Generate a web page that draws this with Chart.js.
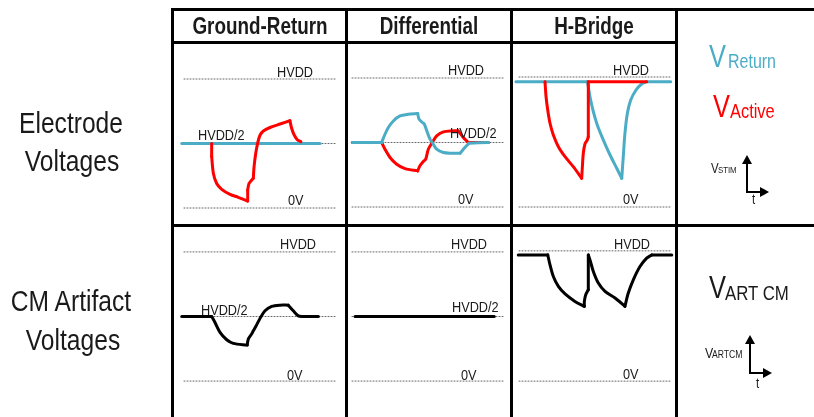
<!DOCTYPE html>
<html>
<head>
<meta charset="utf-8">
<script src="https://cdn.jsdelivr.net/npm/chart.js@4.4.1/dist/chart.umd.min.js"></script>
<style>
  html, body { margin: 0; padding: 0; background: #fff; }
  #page { position: relative; width: 814px; height: 417px; overflow: hidden; }
  canvas { position: absolute; z-index: 1; }
  svg { position: absolute; left: 0; top: 0; z-index: 2; }
  .t { position: absolute; z-index: 3; white-space: nowrap; font-family: "Liberation Sans", Arial, sans-serif; color: #1a1a1a; transform-origin: 0 0; }
</style>
</head>
<body>
<div id="page">
  <svg width="814" height="417">
    <!-- table frame -->
    <rect x="171" y="8" width="643" height="3" fill="#000"/>
    <rect x="171" y="41" width="507" height="3" fill="#000"/>
    <rect x="171" y="224" width="643" height="3" fill="#000"/>
    <rect x="171" y="8" width="3" height="409" fill="#000"/>
    <rect x="345" y="8" width="3" height="409" fill="#000"/>
    <rect x="510" y="8" width="3" height="409" fill="#000"/>
    <rect x="675" y="8" width="3" height="409" fill="#000"/>
    <!-- small V/t axis glyphs -->
    <g stroke="#000" stroke-width="2" fill="none">
      <polyline points="747,162 747,192 762,192"/>
      <polyline points="750,342 750,373 765,373"/>
    </g>
    <g fill="#000">
      <polygon points="747,155 742,164 752,164"/>
      <polygon points="769,192 760,187 760,197"/>
      <polygon points="750,335 745,344 755,344"/>
      <polygon points="772,373 763,368 763,378"/>
    </g>
  </svg>
</div>
<script>
// reference levels, as fraction of HVDD
const refLevels = [0, 0.5, 1];
const refLevelsNoMid = [0, 1];
const refSpan = [0, 100];

// Electrode voltages, Ground-Return
const grReturnT = [-1.5, 89.5];
const grReturnV = [0.5, 0.5];
const grActiveT = [18.2, 18.2, 19.3, 21.5, 24.8, 30.3, 35.7, 41.9, 41.9, 42.8, 44.6, 45.6, 46.1, 47.2, 48.5, 50.0, 52.2, 56.6, 63.2, 69.7, 70.8, 72.5, 74.7, 76.9];
const grActiveV = [0.50, 0.40, 0.27, 0.19, 0.145, 0.106, 0.083, 0.054, 0.14, 0.191, 0.217, 0.230, 0.32, 0.424, 0.505, 0.564, 0.597, 0.624, 0.651, 0.676, 0.618, 0.566, 0.527, 0.514];
const grActiveCorners = [1, 7, 8, 11, 19];

// Electrode voltages, Differential
const diffReturnT = [0.2, 19.5, 21.7, 23.9, 27.2, 31.6, 37.0, 43.2, 44.1, 46.3, 47.6, 49.2, 51.3, 52.8, 55.7, 60.1, 65.6, 71.1, 74.3, 77.0, 89.7];
const diffReturnV = [0.5, 0.5, 0.564, 0.616, 0.667, 0.706, 0.719, 0.725, 0.681, 0.655, 0.642, 0.590, 0.526, 0.5, 0.448, 0.422, 0.417, 0.417, 0.461, 0.495, 0.5];
const diffReturnCorners = [1, 7, 17, 19];
const diffActiveT = [0.2, 19.5, 21.7, 25.0, 29.4, 34.9, 43.2, 44.7, 46.9, 48.5, 50.2, 52.8, 55.7, 60.1, 65.6, 69.9, 73.2, 76.5, 89.7];
const diffActiveV = [0.5, 0.5, 0.448, 0.384, 0.332, 0.298, 0.280, 0.319, 0.353, 0.371, 0.448, 0.5, 0.551, 0.582, 0.590, 0.590, 0.539, 0.5, 0.5];
const diffActiveCorners = [1, 6, 15, 17];

// Electrode voltages, H-Bridge
const hbReturnT = [-2.0, 44.9, 45.6, 46.7, 48.9, 51.5, 55.5, 59.9, 64.3, 67.6, 68.6, 69.7, 71.3, 73.5, 77.0, 80.7, 84.0, 99.8];
const hbReturnV = [0.964, 0.964, 0.925, 0.848, 0.733, 0.631, 0.515, 0.400, 0.298, 0.221, 0.387, 0.567, 0.721, 0.823, 0.900, 0.946, 0.964, 0.964];
const hbReturnCorners = [1, 9, 16];
const hbActiveT = [17.1, 17.8, 18.9, 20.4, 22.6, 25.9, 30.3, 35.7, 41.25, 41.7, 42.3, 43.4, 44.9, 45.6, 45.6, 84.0];
const hbActiveV = [0.964, 0.848, 0.746, 0.644, 0.554, 0.464, 0.387, 0.310, 0.221, 0.310, 0.413, 0.485, 0.515, 0.541, 0.964, 0.964];
const hbActiveCorners = [8, 13, 14];

// Common-mode artifact voltages
const grArtT = [-1.5, 18.2, 20.4, 23.7, 28.1, 32.4, 41.6, 42.3, 44.5, 45.6, 47.4, 50.0, 53.3, 57.7, 63.2, 68.6, 71.9, 75.2, 78.5, 88.4];
const grArtV = [0.5, 0.5, 0.454, 0.377, 0.320, 0.292, 0.279, 0.325, 0.364, 0.389, 0.427, 0.485, 0.544, 0.578, 0.588, 0.588, 0.544, 0.505, 0.5, 0.5];
const grArtCorners = [1, 6, 15, 18];
const diffArtT = [2.0, 93.6];
const diffArtV = [0.5, 0.5];
const hbArtT = [-0.5, 18.9, 20.4, 22.6, 25.9, 30.3, 36.8, 43.0, 43.0, 43.9, 45.6, 45.6, 46.7, 48.9, 52.2, 56.6, 63.2, 69.7, 71.9, 75.2, 79.6, 84.0, 87.3, 100.5];
const hbArtV = [0.969, 0.969, 0.893, 0.803, 0.727, 0.669, 0.612, 0.574, 0.612, 0.663, 0.702, 0.969, 0.931, 0.842, 0.753, 0.689, 0.638, 0.574, 0.676, 0.778, 0.880, 0.944, 0.969, 0.969];
const hbArtCorners = [1, 7, 10, 11, 17, 22];

const BLUE = "#4bacc6";
const RED = "#ff0000";
const page = document.getElementById("page");

function xy(ts, vs) {
  return ts.map((t, i) => ({ x: t, y: vs[i] }));
}

// one smooth dataset per piece between corners, so corners stay sharp
function wave(ts, vs, color, order, corners = []) {
  const cuts = [0, ...corners, ts.length - 1];
  const sets = [];
  for (let k = 0; k < cuts.length - 1; k++) {
    const a = cuts[k], b = cuts[k + 1];
    sets.push({
      data: xy(ts.slice(a, b + 1), vs.slice(a, b + 1)),
      borderColor: color,
      borderWidth: 3,
      order: order,
      tension: 0.3,
    });
  }
  return sets;
}

function refs(levels) {
  return levels.map(lv => ({
    data: xy(refSpan, [lv, lv]),
    borderColor: "#666",
    borderWidth: 1,
    borderDash: [1, 2],
    order: 10,
  }));
}

// dl = left end of the dotted lines, yH / y0 = pixel rows of HVDD and 0V
function panel(dl, yH, y0, datasets) {
  const padX = 20, padY = 45, span = 152;
  const ppu = y0 - yH;
  const c = document.createElement("canvas");
  c.width = span + 2 * padX;
  c.height = ppu + 2 * padY;
  c.style.left = (dl - padX) + "px";
  c.style.top = (yH - padY) + "px";
  page.appendChild(c);
  new Chart(c.getContext("2d"), {
    type: "line",
    data: { datasets: datasets },
    options: {
      responsive: false,
      animation: false,
      layout: { padding: 0 },
      plugins: { legend: { display: false }, tooltip: { enabled: false } },
      elements: {
        point: { radius: 0 },
        line: { tension: 0, borderCapStyle: "round", borderJoinStyle: "round" },
      },
      scales: {
        x: { type: "linear", display: false, min: -padX / span * 100, max: 100 + padX / span * 100 },
        y: { type: "linear", display: false, min: -padY / ppu, max: 1 + padY / ppu },
      },
    },
  });
}

panel(184, 79, 208, [
  ...wave(grActiveT, grActiveV, RED, 1, grActiveCorners),
  ...wave(grReturnT, grReturnV, BLUE, 2),
  ...refs(refLevels)]);
panel(352, 78, 207, [
  ...wave(diffReturnT, diffReturnV, BLUE, 1, diffReturnCorners),
  ...wave(diffActiveT, diffActiveV, RED, 2, diffActiveCorners),
  ...refs(refLevels)]);
panel(519, 77, 207, [
  ...wave(hbActiveT, hbActiveV, RED, 1, hbActiveCorners),
  ...wave(hbReturnT, hbReturnV, BLUE, 2, hbReturnCorners),
  ...refs(refLevelsNoMid)]);
panel(184, 252.3, 381.7, [...wave(grArtT, grArtV, "#000", 1, grArtCorners), ...refs(refLevels)]);
panel(352, 252.3, 381.7, [...wave(diffArtT, diffArtV, "#000", 1), ...refs(refLevels)]);
panel(519, 251, 381.7, [...wave(hbArtT, hbArtV, "#000", 1, hbArtCorners), ...refs(refLevelsNoMid)]);

// text: x = left edge (or centre when center), base = baseline row
function txt(s, x, base, size, o = {}) {
  const d = document.createElement("div");
  d.className = "t";
  d.textContent = s;
  d.style.fontSize = size + "px";
  d.style.lineHeight = size + "px";
  d.style.top = (base - 0.8465 * size) + "px";
  if (o.bold) d.style.fontWeight = "bold";
  if (o.color) d.style.color = o.color;
  const sx = o.sx || 0.82;
  if (o.center) {
    d.style.left = x + "px";
    d.style.transform = "translateX(-50%) scaleX(" + sx + ")";
    d.style.transformOrigin = "50% 0";
  } else {
    d.style.left = x + "px";
    d.style.transform = "scaleX(" + sx + ")";
  }
  page.appendChild(d);
}

// headers
txt("Ground-Return", 259.5, 34.5, 23, { bold: true, center: true });
txt("Differential", 429, 34.5, 23, { bold: true, center: true });
txt("H-Bridge", 594, 34.5, 23, { bold: true, center: true });

// row titles
txt("Electrode", 71, 133.5, 30, { center: true });
txt("Voltages", 71.5, 171.5, 30, { center: true });
txt("CM Artifact", 71, 311, 30, { center: true });
txt("Voltages", 72.5, 350, 30, { center: true });

// level labels
const lab = 15.5;
txt("HVDD", 277, 77, lab); txt("HVDD/2", 198, 140, lab); txt("0V", 288, 205, lab);
txt("HVDD", 448, 75, lab); txt("HVDD/2", 450, 138, lab); txt("0V", 458, 204, lab);
txt("HVDD", 613, 75, lab); txt("0V", 623, 204, lab);
txt("HVDD", 280, 249, lab); txt("HVDD/2", 201, 315, lab); txt("0V", 287, 380, lab);
txt("HVDD", 451, 249, lab); txt("HVDD/2", 452, 312, lab); txt("0V", 461, 380, lab);
txt("HVDD", 614, 249, lab); txt("0V", 623, 379, lab);

// legend column
txt("V", 709, 67, 31, { color: BLUE }); txt("Return", 728, 68.3, 19.5, { color: BLUE });
txt("V", 713, 117, 31, { color: RED }); txt("Active", 730, 118, 20, { color: RED });
txt("V", 711, 173, 14); txt("STIM", 718, 173, 9.5);
txt("t", 752, 204, 14);
txt("V", 709, 298, 31); txt("ART CM", 725, 300, 20.5);
txt("V", 705, 358, 15); txt("ARTCM", 712, 358, 10.5);
txt("t", 756, 388, 14);
</script>
</body>
</html>
